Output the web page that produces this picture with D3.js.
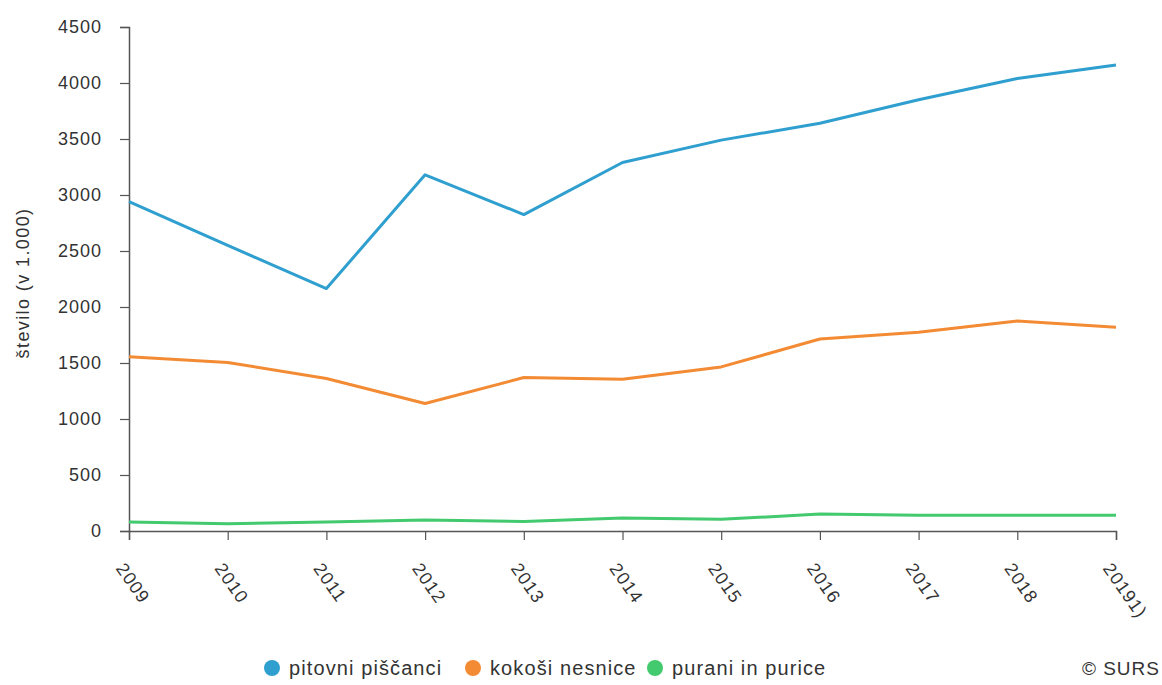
<!DOCTYPE html>
<html>
<head>
<meta charset="utf-8">
<script src="https://cdn.jsdelivr.net/npm/d3@7"></script>
<style>
  html, body { margin: 0; padding: 0; background: #fff; }
  svg { display: block; font-family: "Liberation Sans", Arial, sans-serif; }
</style>
</head>
<body>
<svg id="chart" width="1162" height="685"></svg>
<script>
const years = ["2009", "2010", "2011", "2012", "2013", "2014", "2015", "2016", "2017", "2018", "2019"];
const yearLabels = ["2009", "2010", "2011", "2012", "2013", "2014", "2015", "2016", "2017", "2018", "20191)"];
const pitovniPiscanci = [2940, 2550, 2165, 3180, 2825, 3290, 3490, 3640, 3850, 4040, 4160];
const kokosiNesnice = [1555, 1505, 1362, 1138, 1370, 1355, 1465, 1714, 1775, 1875, 1820];
const puraniInPurice = [80, 65, 80, 98, 85, 116, 104, 152, 140, 140, 140];
const yTicks = [0, 500, 1000, 1500, 2000, 2500, 3000, 3500, 4000, 4500];
const seriesNames = ["pitovni piščanci", "kokoši nesnice", "purani in purice"];
const seriesColors = ["#2f9fcf", "#f38b34", "#43c96e"];
const seriesValues = [pitovniPiscanci, kokosiNesnice, puraniInPurice];

const svg = d3.select("#chart");
const mLeft = 129, mRight = 1116, mTop = 27, mBottom = 531;

const x = d3.scalePoint().domain(years).range([mLeft, mRight]);
const y = d3.scaleLinear().domain([0, 4500]).range([mBottom, mTop]);

// Y axis
const yAxis = svg.append("g")
  .attr("transform", `translate(${mLeft},0)`)
  .call(d3.axisLeft(y).tickValues(yTicks).tickSize(9).tickPadding(18).tickFormat(d3.format("d")));
yAxis.select(".domain").attr("stroke", "#555").attr("stroke-width", 1.5);
yAxis.selectAll(".tick line").attr("stroke", "#555").attr("stroke-width", 1.2);
yAxis.selectAll(".tick text")
  .attr("font-size", 18).attr("fill", "#333").attr("letter-spacing", "1px")
  .attr("font-family", "'Liberation Sans', Arial, sans-serif");

// X axis
const xAxis = svg.append("g")
  .attr("transform", `translate(0,${mBottom})`)
  .call(d3.axisBottom(x).tickSize(9).tickFormat((d, i) => yearLabels[i]));
xAxis.select(".domain").attr("stroke", "#555").attr("stroke-width", 1.5);
xAxis.selectAll(".tick line").attr("stroke", "#555").attr("stroke-width", 1.2);
xAxis.selectAll(".tick text")
  .attr("font-size", 18).attr("fill", "#333").attr("letter-spacing", "1px")
  .attr("font-family", "'Liberation Sans', Arial, sans-serif")
  .attr("text-anchor", "start")
  .attr("transform", "translate(-9,34) rotate(55)")
  .attr("x", 0).attr("y", 0).attr("dy", "0.35em");

// Y axis title
svg.append("text")
  .attr("transform", `translate(29,283) rotate(-90)`)
  .attr("text-anchor", "middle")
  .attr("font-size", 18)
  .attr("fill", "#333")
  .attr("letter-spacing", "1.4px")
  .text("število (v 1.000)");

// Lines
const line = d3.line().x((d, i) => x(years[i])).y(d => y(d));
seriesValues.forEach((vals, k) => {
  svg.append("path")
    .datum(vals)
    .attr("fill", "none")
    .attr("stroke", seriesColors[k])
    .attr("stroke-width", 3)
    .attr("stroke-linejoin", "round")
    .attr("d", line);
});

// Legend
const legendX = [272, 473, 655];
const legend = svg.append("g");
seriesNames.forEach((name, k) => {
  legend.append("circle")
    .attr("cx", legendX[k]).attr("cy", 668).attr("r", 8)
    .attr("fill", seriesColors[k]);
  legend.append("text")
    .attr("x", legendX[k] + 17).attr("y", 668).attr("dy", "0.35em")
    .attr("font-size", 20).attr("fill", "#333").attr("letter-spacing", "1.1px")
    .text(name);
});

svg.append("text")
  .attr("x", 1160).attr("y", 668).attr("dy", "0.35em")
  .attr("text-anchor", "end")
  .attr("font-size", 19).attr("fill", "#333").attr("letter-spacing", "1px")
  .text("© SURS");
</script>
</body>
</html>
